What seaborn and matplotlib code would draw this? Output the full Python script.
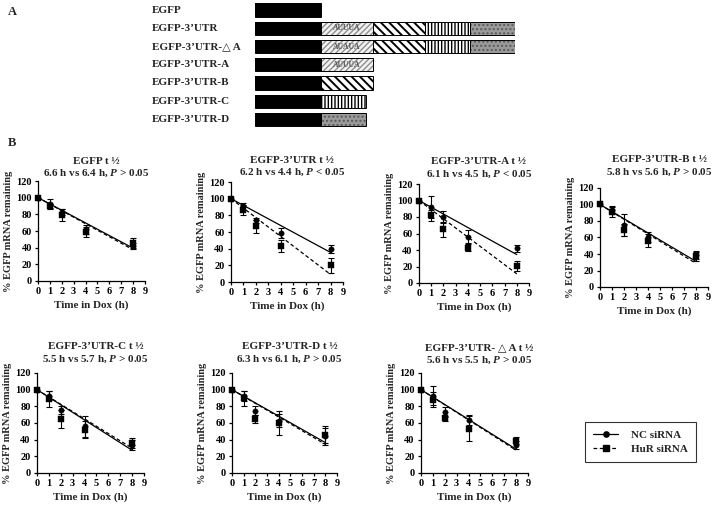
import numpy as np
import pandas as pd
import matplotlib
matplotlib.use("Agg")
import matplotlib.pyplot as plt
import seaborn as sns
from matplotlib.lines import Line2D

# ---------------- Panel A data ----------------
constructs = ["EGFP", "EGFP-3\u2019UTR", "EGFP-3\u2019UTR-\u25b3 A", "EGFP-3\u2019UTR-A",
              "EGFP-3\u2019UTR-B", "EGFP-3\u2019UTR-C", "EGFP-3\u2019UTR-D"]
construct_segments = [["EGFP"], ["EGFP", "A", "B", "C", "D"], ["EGFP", "A", "B", "C", "D"],
                      ["EGFP", "A"], ["EGFP", "B"], ["EGFP", "C"], ["EGFP", "D"]]
segment_names = ["EGFP", "A", "B", "C", "D"]
segment_lengths = [66, 52, 52, 45, 45]
are_text = ["", "AUUUA", "AUAUA", "AUUUA", "", "", ""]

# ---------------- Panel B data ----------------
time_points = [0, 1, 2, 4, 8]
panel_titles = ["EGFP", "EGFP-3\u2019UTR", "EGFP-3\u2019UTR-A", "EGFP-3\u2019UTR-B",
                "EGFP-3\u2019UTR-C", "EGFP-3\u2019UTR-D", "EGFP-3\u2019UTR- \u25b3 A"]
half_life_nc = [6.6, 6.2, 6.1, 5.8, 5.5, 6.3, 5.6]
half_life_hur = [6.4, 4.4, 4.5, 5.6, 5.7, 6.1, 5.5]
p_values = ["> 0.05", "< 0.05", "< 0.05", "> 0.05", "> 0.05", "> 0.05", "> 0.05"]

nc_mean = [[100, 93, 83, 62, 42],
           [100, 91, 74, 59, 40],
           [100, 92, 80, 56, 42],
           [100, 93, 75, 61, 39],
           [100, 93, 76, 56, 34],
           [100, 93, 75, 63, 44],
           [100, 93, 73, 64, 34]]
nc_err = [[0, 5, 4, 5, 4],
          [0, 4, 3, 6, 5],
          [0, 13, 7, 8, 4],
          [0, 5, 13, 6, 5],
          [0, 5, 5, 13, 6],
          [0, 6, 5, 8, 10],
          [0, 11, 6, 6, 5]]
hur_mean = [[100, 90, 79, 59, 46],
            [100, 86, 67, 43, 20],
            [100, 82, 65, 43, 21],
            [100, 91, 69, 56, 37],
            [100, 89, 65, 52, 36],
            [100, 90, 65, 60, 46],
            [100, 88, 66, 53, 39]]
hur_err = [[0, 3, 7, 6, 6],
           [0, 6, 8, 7, 9],
           [0, 7, 9, 4, 6],
           [0, 6, 7, 8, 6],
           [0, 10, 11, 10, 6],
           [0, 9, 5, 14, 10],
           [0, 9, 3, 15, 4]]
legend_labels = ["NC siRNA", "HuR siRNA"]

# ---------------- style ----------------
sns.set_theme(style="ticks")
plt.rcParams["font.family"] = ["Liberation Serif", "DejaVu Serif"]
plt.rcParams["font.weight"] = "bold"
plt.rcParams["axes.labelweight"] = "bold"
plt.rcParams["mathtext.fontset"] = "custom"
plt.rcParams["mathtext.rm"] = "Liberation Serif:bold"
plt.rcParams["mathtext.it"] = "Liberation Serif:italic:bold"
plt.rcParams["mathtext.bf"] = "Liberation Serif:bold"
plt.rcParams["axes.edgecolor"] = "black"
plt.rcParams["axes.linewidth"] = 0.9
plt.rcParams["xtick.color"] = "black"
plt.rcParams["ytick.color"] = "black"
plt.rcParams["xtick.major.size"] = 2.5
plt.rcParams["ytick.major.size"] = 2.5
plt.rcParams["xtick.major.width"] = 0.9
plt.rcParams["ytick.major.width"] = 0.9
plt.rcParams["xtick.major.pad"] = 2
plt.rcParams["ytick.major.pad"] = 2

W, H = 713, 509
fig = plt.figure(figsize=(W / 100, H / 100), dpi=100)


def rect(l, t, r, b):
    return [l / W, 1 - b / H, (r - l) / W, (b - t) / H]


# ---------------- Panel A ----------------
fig.text(8 / W, 1 - 12 / H, "A", fontsize=9, ha="left", va="center")
axA = fig.add_axes(rect(255, 0.9, 515, 128.6))
axA.set_xlim(0, 260)
axA.set_ylim(6.5, -0.5)
axA.axis("off")

seg_style = {
    "EGFP": dict(face="black", hatch=None, hcol="black", hlw=None),
    "A": dict(face="#f2f2f2", hatch="//////", hcol="#8f8f8f", hlw=None),
    "B": dict(face="white", hatch="\\\\\\\\", hcol="black", hlw=1.4),
    "C": dict(face="white", hatch="|||||", hcol="black", hlw=None),
    "D": dict(face="#9a9a9a", hatch="....", hcol="#5a5a5a", hlw=None),
}
seg_len = dict(zip(segment_names, segment_lengths))
for i, (name, segs) in enumerate(zip(constructs, construct_segments)):
    axA.text(-103, i, name, ha="left", va="center", fontsize=8)
    left = 0
    for s in segs:
        st = seg_style[s]
        bars = axA.barh(i, seg_len[s], left=left, height=0.72, color=st["face"],
                        hatch=st["hatch"], edgecolor=st["hcol"], linewidth=0)
        if st["hlw"] is not None:
            for p in bars:
                if hasattr(p, "set_hatch_linewidth"):
                    p.set_hatch_linewidth(st["hlw"])
        axA.barh(i, seg_len[s], left=left, height=0.72, fill=False,
                 edgecolor="black", linewidth=0.7)
        if s == "A" and are_text[i]:
            axA.text(left + seg_len[s] / 2, i, are_text[i], ha="center", va="center",
                     fontsize=5.5, color="#555555")
        left += seg_len[s]

# ---------------- Panel B ----------------
fig.text(8 / W, 1 - 143 / H, "B", fontsize=9, ha="left", va="center")

ax_px = [(38, 181, 145, 281), (231, 182, 343, 282), (419, 184, 529, 283), (600, 188, 708, 287),
         (37, 373, 144, 473), (232, 373, 337, 473), (421, 373, 528, 473)]
title_y = [168, 167, 168.5, 166.5, 353.5, 353.5, 354.5]

for i in range(7):
    ax = fig.add_axes(rect(*ax_px[i]))
    t = np.array(time_points, dtype=float)
    fit_t = np.array([0.0, 8.0])
    df_fit = pd.DataFrame({
        "t": np.concatenate([fit_t, fit_t]),
        "y": np.concatenate([100 - 50 / half_life_nc[i] * fit_t,
                             100 - 50 / half_life_hur[i] * fit_t]),
        "group": [legend_labels[0]] * 2 + [legend_labels[1]] * 2,
    })
    sns.lineplot(data=df_fit, x="t", y="y", style="group",
                 dashes={legend_labels[0]: "", legend_labels[1]: (3, 2)},
                 color="black", linewidth=0.9, ax=ax, legend=False)
    ax.errorbar(t[1:], np.array(nc_mean[i])[1:], yerr=np.array(nc_err[i])[1:], fmt="none",
                ecolor="black", elinewidth=0.8, capsize=2, capthick=0.8, zorder=3)
    ax.errorbar(t[1:], np.array(hur_mean[i])[1:], yerr=np.array(hur_err[i])[1:], fmt="none",
                ecolor="black", elinewidth=0.8, capsize=2, capthick=0.8, zorder=3)
    sns.scatterplot(x=t, y=nc_mean[i], marker="o", s=15, color="black", edgecolor="black",
                    linewidth=0.3, ax=ax, zorder=4, clip_on=False)
    sns.scatterplot(x=t, y=hur_mean[i], marker="s", s=22, color="black", edgecolor="black",
                    linewidth=0.3, ax=ax, zorder=5, clip_on=False)
    ax.set_xlim(0, 9)
    ax.set_ylim(0, 120)
    ax.set_xticks(range(0, 10))
    ax.set_yticks(range(0, 121, 20))
    ax.tick_params(labelsize=7.5)
    sns.despine(ax=ax)
    ax.set_xlabel("Time in Dox (h)", fontsize=8, labelpad=3)
    ax.set_ylabel("% EGFP mRNA remaining", fontsize=7.5, labelpad=2)
    l, tp, r, b = ax_px[i]
    cx = (l + r) / 2 + 5
    fig.text(cx / W, 1 - title_y[i] / H,
             panel_titles[i] + " t \u00bd\n" + f"{half_life_nc[i]} h vs {half_life_hur[i]} h, $P$ {p_values[i]}",
             ha="center", va="center", fontsize=8, linespacing=1.25)

handles = [Line2D([], [], color="black", marker="o", markersize=3.8, linewidth=0.9, label=legend_labels[0]),
           Line2D([], [], color="black", marker="s", markersize=4.5, linewidth=0.9, linestyle=(0, (3, 2)),
                  label=legend_labels[1])]
leg = fig.legend(handles=handles, loc="upper left", bbox_to_anchor=(585 / W, 1 - 422 / H),
                 frameon=True, fancybox=False, edgecolor="black", fontsize=8, handlelength=2.2,
                 handletextpad=1.2, borderpad=0.75, labelspacing=0.35, borderaxespad=0)
leg.get_frame().set_linewidth(0.8)

fig.savefig("out.png", dpi=100, facecolor="white")
